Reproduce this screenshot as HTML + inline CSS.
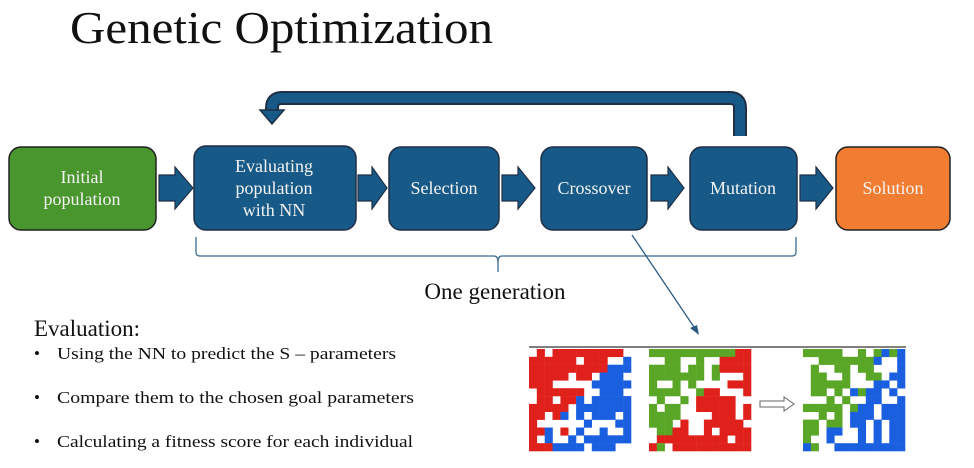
<!DOCTYPE html>
<html><head><meta charset="utf-8"><style>
html,body{margin:0;padding:0;background:#fff;}
svg{display:block;}
text{font-family:"Liberation Serif",serif;}
</style></head><body>
<svg id="s" width="974" height="468" viewBox="0 0 974 468" xmlns="http://www.w3.org/2000/svg">
<text x="70" y="43" font-size="46" fill="#111" textLength="423" lengthAdjust="spacingAndGlyphs">Genetic Optimization</text>
<path d="M740,136 V108 Q740,98 730,98 H282 Q272,98 272,108 V112" fill="none" stroke="#1f2f45" stroke-width="14"/>
<path d="M740,136 V108 Q740,98 730,98 H282 Q272,98 272,108 V112" fill="none" stroke="#175a87" stroke-width="10"/>
<polygon points="260,110 284,110 272,124" fill="#175a87" stroke="#1f2f45" stroke-width="1.5"/>
<rect x="9" y="147" width="147" height="83" rx="12" fill="#4a962e" stroke="#222" stroke-width="1.5"/>
<rect x="194" y="146" width="162" height="84" rx="12" fill="#175a87" stroke="#1f2f45" stroke-width="1.5"/>
<rect x="389" y="147" width="110" height="83" rx="12" fill="#175a87" stroke="#1f2f45" stroke-width="1.5"/>
<rect x="541" y="147" width="106" height="83" rx="12" fill="#175a87" stroke="#1f2f45" stroke-width="1.5"/>
<rect x="690" y="147" width="107" height="83" rx="12" fill="#175a87" stroke="#1f2f45" stroke-width="1.5"/>
<rect x="836" y="147" width="114" height="83" rx="12" fill="#f07d31" stroke="#222" stroke-width="1.5"/>
<g fill="#175a87" stroke="#1f2f45" stroke-width="1.2">
<polygon points="159,175 175,175 175,167 193,188 175,209 175,201 159,201"/>
<polygon points="358,175 372,175 372,167 387,188 372,209 372,201 358,201"/>
<polygon points="502,175 518,175 518,167 535,188 518,209 518,201 502,201"/>
<polygon points="651,175 668,175 668,167 684,188 668,209 668,201 651,201"/>
<polygon points="800,175 816,175 816,167 833,188 816,209 816,201 800,201"/>
</g>
<g font-size="18" fill="#f2f2f2" text-anchor="middle">
<text x="82" y="183">Initial</text><text x="82" y="205">population</text>
<text x="274" y="172">Evaluating</text><text x="274" y="194">population</text><text x="274" y="216">with NN</text>
<text x="444" y="194">Selection</text>
<text x="594" y="194">Crossover</text>
<text x="743" y="194">Mutation</text>
<text x="893" y="194">Solution</text>
</g>
<path d="M196,237 V252 Q196,256 200,256 H494 Q498,256 498,262 V272 M498,262 Q498,256 502,256 H792 Q796,256 796,252 V237" fill="none" stroke="#3a6a90" stroke-width="1.3"/>
<text x="495" y="299" font-size="23" fill="#111" text-anchor="middle">One generation</text>
<line x1="632" y1="235" x2="696" y2="330" stroke="#2d5b82" stroke-width="1.3"/>
<polygon points="699,335 690,328 697,325" fill="#2d5b82"/>
<text x="34" y="336" font-size="23" fill="#111">Evaluation:</text>
<g font-size="17" fill="#111">
<text x="34" y="359">•</text><text x="57" y="359" textLength="339" lengthAdjust="spacingAndGlyphs">Using the NN to predict the S – parameters</text>
<text x="34" y="403">•</text><text x="57" y="403" textLength="357" lengthAdjust="spacingAndGlyphs">Compare them to the chosen goal parameters</text>
<text x="34" y="447">•</text><text x="57" y="447" textLength="356" lengthAdjust="spacingAndGlyphs">Calculating a fitness score for each individual</text>
</g>
<line x1="529" y1="347" x2="906" y2="347" stroke="#555" stroke-width="1.5"/>
<g id="grids"></g>
<polygon points="760,401 784,401 784,397 794,404 784,411 784,407 760,407" fill="#fff" stroke="#666" stroke-width="1"/>
</svg>
<script>
(function(){
var g=document.getElementById('grids');var ns='http://www.w3.org/2000/svg';
var seed=7;function r(){seed=(seed*16807)%2147483647;return seed/2147483647;}
function grid(x0,colA,colB,split){
 var n=13,c=102/n;
 for(var i=0;i<n;i++)for(var j=0;j<n;j++){
  var v=r();if(v<0.3)continue;
  var col=(j+i*0.8>split+ (r()-0.5)*4)?colB:colA;
  var e=document.createElementNS(ns,'rect');
  e.setAttribute('x',(x0+j*c).toFixed(1));e.setAttribute('y',(349+i*c).toFixed(1));
  e.setAttribute('width',(c+0.3).toFixed(1));e.setAttribute('height',(c+0.3).toFixed(1));
  e.setAttribute('fill',col);g.appendChild(e);
 }
}
grid(529,'#e0211b','#1a5fe0',11);
grid(649,'#5aa626','#e0211b',10);
grid(803,'#5aa626','#1a5fe0',11);
})();
</script>
</body></html>
